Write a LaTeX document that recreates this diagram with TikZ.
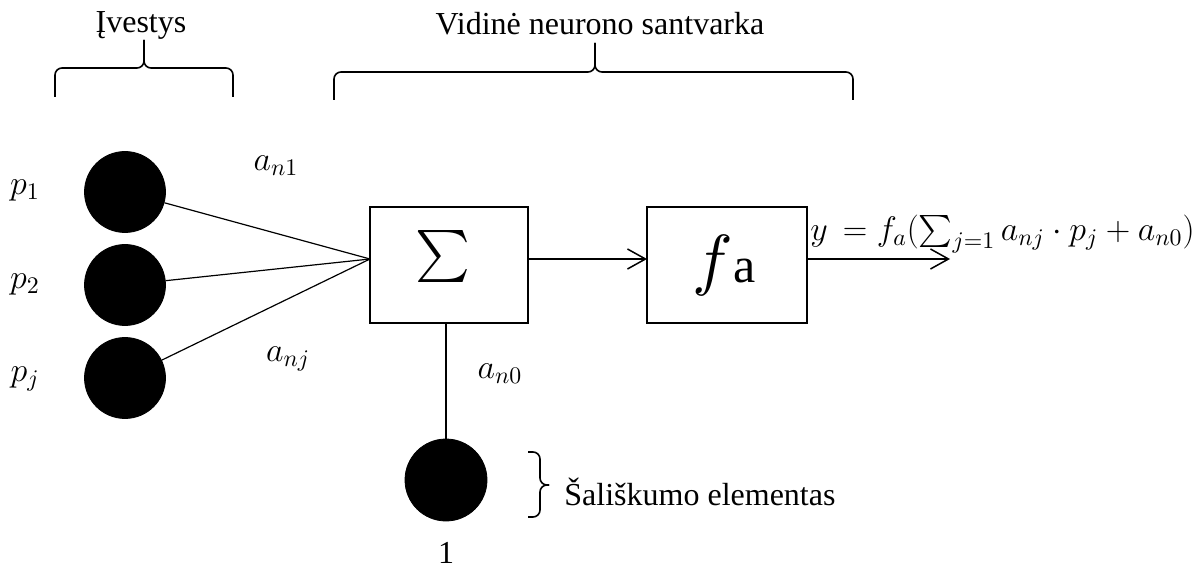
\documentclass[tikz,border=0pt]{standalone}
\usepackage{fix-cm}
\usepackage{fontspec}
\setmainfont{Liberation Serif}
\usetikzlibrary{arrows.meta}
\begin{document}
\begin{tikzpicture}[x=0.5pt,y=-0.5pt,
  neuron/.style={circle,fill=black,draw=black,minimum size=40.5pt,inner sep=0},
  box/.style={draw,line width=0.9pt,minimum height=58pt,inner sep=0},
  conn/.style={line width=0.6pt},
  arr/.style={line width=0.75pt,-{Straight Barb[length=9pt,width=10pt,line width=0.75pt]}},
  lbl/.style={inner sep=0,font=\fontsize{17}{20}\selectfont},
  txt/.style={inner sep=0,font=\fontsize{16}{19}\selectfont},
  brc/.style={line width=0.8pt,rounded corners=3.5pt}]
\useasboundingbox (0,0) rectangle (1198,571);

% top braces and titles
\node[txt] (tin) at (141,25) {Įvestys};
\draw[brc] (55,97) -- (55,68) -- (144,68) -- (144,40);
\draw[brc] (233,97) -- (233,68) -- (144,68) -- (144,40);
\node[txt] (tinner) at (600,24) {Vidinė neurono santvarka};
\draw[brc] (334,100) -- (334,72) -- (595,72) -- (595,43);
\draw[brc] (853,100) -- (853,72) -- (595,72) -- (595,43);

% inputs
\node[neuron] (n1) at (125,192) {};
\node[neuron] (n2) at (125,285) {};
\node[neuron] (nj) at (125,378) {};
\node[lbl] (p1) at (25,190) {$p_1$};
\node[lbl] (p2) at (25,284) {$p_2$};
\node[lbl] (pj) at (25,379) {$p_j$};
\node[lbl] (an1) at (276,166) {$a_{n1}$};
\node[lbl] (anj) at (288,359) {$a_{nj}$};

% boxes
\node[box,minimum width=79pt] (sum) at (449,265) {};
\node[inner sep=0] (sig) at (443,257) {\scalebox{2.6}{$\sum$}};
\node[box,minimum width=80pt] (fa) at (727,265) {};
\node[inner sep=0,anchor=base] (falbl) at (724,283) {\scalebox{3.4}{$f$}\hspace{0.5pt}\scalebox{2.5}{$\mathrm{a}$}};
\coordinate (sumin) at (370,259);
\coordinate (sumout) at (528,259);
\coordinate (fain) at (647,259);
\coordinate (faout) at (807,259);
\coordinate (yend) at (950,259);

\draw[conn] (n1) -- (sumin);
\draw[conn] (n2) -- (sumin);
\draw[conn] (nj) -- (sumin);
\draw[arr] (sumout) -- (fain);
\draw[arr] (faout) -- (yend);
\node[lbl,anchor=west] (form) at (810,234) {$y\,=f_a(\mathop{\raisebox{-0.25ex}{\scalebox{1.6}{$\sum$}}}\nolimits_{j=1}a_{nj}\cdot p_j+a_{n0})$};

% bias
\node[neuron,minimum size=41pt] (bias) at (446,480) {};
\coordinate (sumbot) at (446,323);
\draw[conn] (sumbot) -- (bias);
\node[lbl] (an0) at (500,374) {$a_{n0}$};
\node[txt] (one) at (446,553) {1};
\draw[brc] (528,452) -- (540,452) -- (540,485) -- (549,485);
\draw[brc] (528,517) -- (540,517) -- (540,485) -- (549,485);
\node[txt,anchor=west] (bias txt) at (564,492) {Šališkumo elementas};
\end{tikzpicture}
\end{document}
